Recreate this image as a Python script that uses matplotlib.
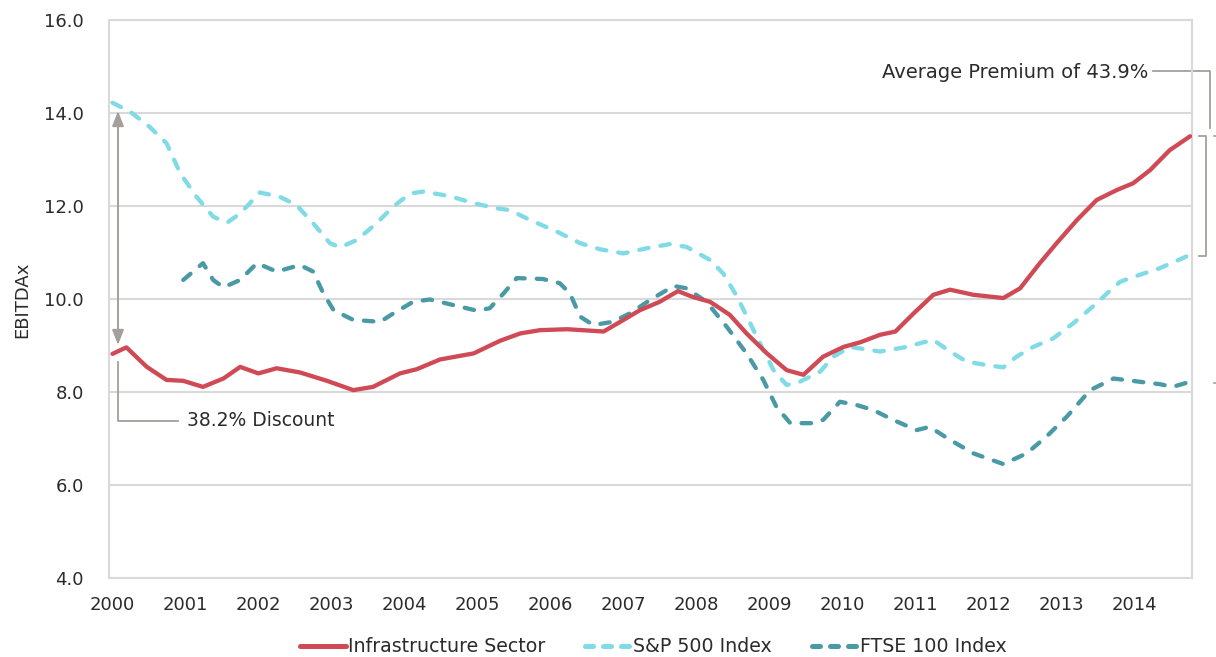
import matplotlib
matplotlib.use("Agg")
import matplotlib.pyplot as plt
from matplotlib.lines import Line2D

# ---------------- data ----------------
infra_x = [2000.00, 2000.19, 2000.47, 2000.74, 2000.97, 2001.24, 2001.52, 2001.75, 2002.00,
           2002.25, 2002.57, 2002.94, 2003.30, 2003.57, 2003.94, 2004.17, 2004.49, 2004.95,
           2005.31, 2005.59, 2005.86, 2006.23, 2006.54, 2006.73, 2006.96, 2007.23, 2007.50,
           2007.75, 2007.96, 2008.19, 2008.46, 2008.69, 2008.97, 2009.24, 2009.47, 2009.74,
           2010.02, 2010.25, 2010.52, 2010.73, 2010.98, 2011.25, 2011.48, 2011.80, 2012.21,
           2012.44, 2012.71, 2012.94, 2013.22, 2013.49, 2013.76, 2013.99, 2014.22, 2014.49,
           2014.77]
infra_y = [8.82, 8.96, 8.54, 8.26, 8.24, 8.11, 8.29, 8.54, 8.40,
           8.51, 8.42, 8.24, 8.04, 8.11, 8.40, 8.49, 8.70, 8.83,
           9.10, 9.26, 9.33, 9.35, 9.32, 9.30, 9.51, 9.76, 9.94,
           10.17, 10.04, 9.94, 9.66, 9.26, 8.83, 8.47, 8.37, 8.76,
           8.97, 9.07, 9.23, 9.30, 9.69, 10.09, 10.20, 10.09, 10.02,
           10.23, 10.77, 11.20, 11.70, 12.13, 12.34, 12.49, 12.77, 13.20,
           13.50]

sp_x = [2000.00, 2000.24, 2000.51, 2000.74, 2000.93, 2001.15, 2001.38, 2001.57, 2001.75,
        2002.02, 2002.29, 2002.52, 2002.75, 2002.98, 2003.12, 2003.35, 2003.62, 2003.85,
        2004.08, 2004.26, 2004.63, 2004.95, 2005.27, 2005.45, 2005.72, 2006.09, 2006.41,
        2006.68, 2007.00, 2007.32, 2007.64, 2007.87, 2008.19, 2008.37, 2008.56, 2008.74,
        2008.92, 2009.06, 2009.24, 2009.42, 2009.70, 2009.88, 2010.11, 2010.52, 2010.89,
        2011.07, 2011.25, 2011.48, 2011.71, 2011.98, 2012.21, 2012.39, 2012.62, 2012.89,
        2013.17, 2013.49, 2013.63, 2013.81, 2014.08, 2014.35, 2014.67, 2014.77]
sp_y = [14.22, 14.03, 13.70, 13.35, 12.70, 12.20, 11.77, 11.64, 11.84,
        12.29, 12.20, 12.02, 11.63, 11.20, 11.11, 11.27, 11.63, 11.99,
        12.27, 12.31, 12.21, 12.06, 11.95, 11.91, 11.70, 11.45, 11.20,
        11.07, 10.98, 11.09, 11.18, 11.12, 10.84, 10.55, 10.05, 9.48,
        8.90, 8.47, 8.15, 8.22, 8.44, 8.76, 8.97, 8.87, 8.97,
        9.05, 9.12, 8.87, 8.65, 8.58, 8.53, 8.76, 8.97, 9.15,
        9.48, 9.91, 10.12, 10.37, 10.52, 10.66, 10.88, 10.95]

ftse_x = [2000.97, 2001.24, 2001.38, 2001.52, 2001.75, 2001.98, 2002.25, 2002.57, 2002.75,
          2002.89, 2003.03, 2003.30, 2003.67, 2003.85, 2004.12, 2004.35, 2004.67, 2004.99,
          2005.17, 2005.36, 2005.54, 2005.90, 2006.13, 2006.27, 2006.41, 2006.59, 2006.86,
          2007.09, 2007.37, 2007.69, 2007.87, 2008.14, 2008.42, 2008.69, 2008.92, 2009.10,
          2009.29, 2009.61, 2009.74, 2009.97, 2010.20, 2010.43, 2010.70, 2011.02, 2011.20,
          2011.48, 2011.80, 2012.21, 2012.53, 2012.80, 2013.08, 2013.40, 2013.72, 2014.08,
          2014.35, 2014.53, 2014.77]
ftse_y = [10.41, 10.77, 10.41, 10.25, 10.41, 10.77, 10.59, 10.73, 10.59,
          10.12, 9.76, 9.55, 9.51, 9.69, 9.94, 9.99, 9.87, 9.75,
          9.80, 10.12, 10.45, 10.43, 10.34, 10.12, 9.62, 9.44, 9.51,
          9.69, 9.98, 10.28, 10.23, 9.94, 9.40, 8.83, 8.26, 7.68,
          7.33, 7.33, 7.40, 7.79, 7.72, 7.61, 7.40, 7.18, 7.25,
          6.97, 6.68, 6.45, 6.68, 7.04, 7.47, 8.04, 8.29, 8.22,
          8.17, 8.11, 8.22]

years = list(range(2000, 2015))
year_labels = [str(y) for y in years]
y_ticks = [4.0, 6.0, 8.0, 10.0, 12.0, 14.0, 16.0]
series_names = ["Infrastructure Sector", "S&P 500 Index", "FTSE 100 Index"]

# ---------------- style ----------------
FONT = ["DejaVu Sans"]
plt.rcParams["font.family"] = FONT
TXT = "#2b2b2b"
GRID = "#d9d9d9"
ANN = "#a49f9b"
RED = "#d04a56"
LBLUE = "#80dbe6"
TEAL = "#4a9aa6"

W, H = 1216, 657
fig = plt.figure(figsize=(W / 100, H / 100), dpi=100)
ax = fig.add_axes([109 / W, 1 - 578 / H, (1192 - 109) / W, (578 - 20) / H])

lw = 3.1
ax.plot(infra_x, infra_y, color=RED, lw=lw, solid_capstyle="round",
        solid_joinstyle="round", zorder=5)
ax.plot(sp_x, sp_y, color=LBLUE, lw=lw, dashes=(2.2, 2.8),
        dash_capstyle="round", dash_joinstyle="round", zorder=4)
ax.plot(ftse_x, ftse_y, color=TEAL, lw=lw, dashes=(2.2, 2.8),
        dash_capstyle="round", dash_joinstyle="round", zorder=4)

ax.set_xlim(2000 - 3.5 / 72.96, 2000 + (1192 - 112.5) / 72.96)
ax.set_ylim(4, 16)
ax.set_yticks(y_ticks)
ax.set_yticklabels([f"{v:.1f}" for v in y_ticks])
ax.set_xticks(years)
ax.set_xticklabels(year_labels)
ax.tick_params(axis="both", length=0, labelsize=13, colors=TXT)
ax.tick_params(axis="y", pad=18)
ax.tick_params(axis="x", pad=13)
ax.grid(axis="y", color=GRID, lw=1.5)
ax.set_axisbelow(True)
for s in ax.spines.values():
    s.set_color(GRID)
    s.set_linewidth(1.5)

fig.text(22 / W, 1 - 300 / H, "EBITDAx", rotation=90, ha="center", va="center",
         fontsize=13, color=TXT)

# ---------------- annotations ----------------
def px_x(px):
    return 2000 + (px - 112.5) / 72.96

def px_y(py):
    return 16 - (py - 20) / 46.5

# double arrow
ax.annotate("", xy=(px_x(118), px_y(111)), xytext=(px_x(118), px_y(345)),
            arrowprops=dict(arrowstyle="<|-|>,head_length=0.9,head_width=0.35",
                            color=ANN, lw=1.4, shrinkA=0, shrinkB=0), zorder=6)
# discount connector
ax.plot([px_x(118), px_x(118), px_x(178)], [px_y(362), px_y(421), px_y(421)],
        color=ANN, lw=1.3, zorder=6, clip_on=False)
ax.text(px_x(187), px_y(421), "38.2% Discount", ha="left", va="center",
        fontsize=13.5, color=TXT, zorder=7)

# premium annotation
ax.text(px_x(1148), px_y(72), "Average Premium of 43.9%", ha="right", va="center",
        fontsize=14, color=TXT, zorder=7)
ax.plot([px_x(1153), px_x(1210), px_x(1210)], [px_y(70.5), px_y(70.5), px_y(128)],
        color=ANN, lw=1.3, clip_on=False)
ax.plot([px_x(1199), px_x(1206), px_x(1206), px_x(1199)],
        [px_y(136), px_y(136), px_y(256), px_y(256)],
        color=ANN, lw=1.3, clip_on=False)
ax.plot([px_x(1213.5), px_x(1217)], [px_y(136), px_y(136)], color=ANN, lw=1.2, clip_on=False)
ax.plot([px_x(1213.5), px_x(1217)], [px_y(383), px_y(383)], color=ANN, lw=1.2, clip_on=False)

# ---------------- legend ----------------
handles = [
    Line2D([], [], color=RED, lw=3.6, solid_capstyle="round"),
    Line2D([], [], color=LBLUE, lw=3.6, dashes=(1.6, 2.0), dash_capstyle="round"),
    Line2D([], [], color=TEAL, lw=3.6, dashes=(1.6, 2.0), dash_capstyle="round"),
]
leg = fig.legend(handles, series_names, loc="center",
                 bbox_to_anchor=(653.5 / W, 1 - 647 / H),
                 ncol=3, frameon=False, fontsize=13.7, handlelength=2.4,
                 handletextpad=0.12, columnspacing=2.1, labelcolor=TXT)

fig.savefig("out.png", dpi=100)
